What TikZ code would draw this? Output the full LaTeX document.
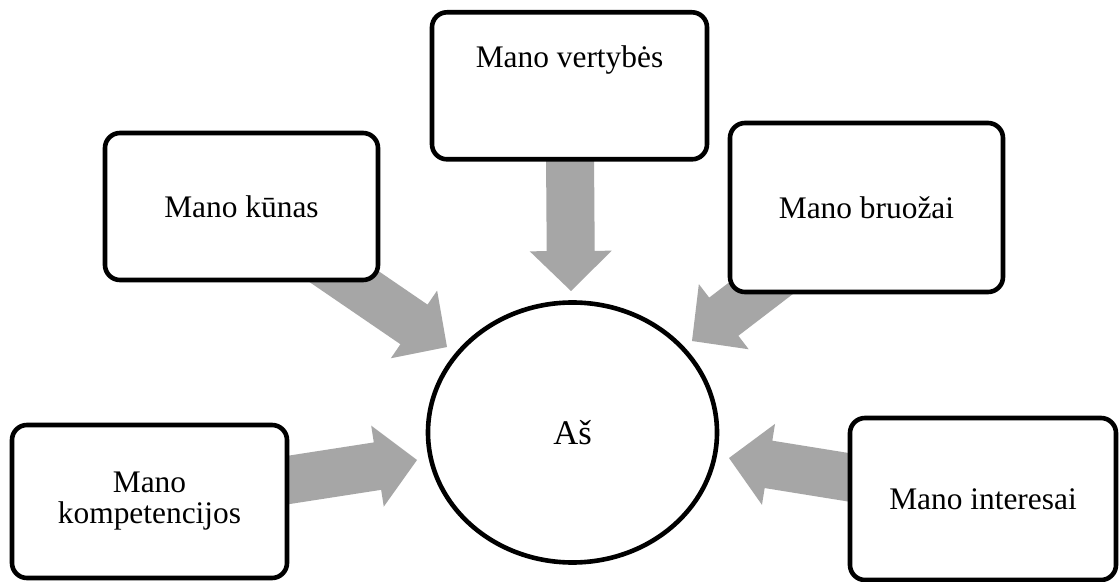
\documentclass[tikz,border=0pt]{standalone}
\usepackage{fontspec}
\setmainfont{Liberation Serif}
\usetikzlibrary{calc,shapes.geometric,backgrounds}
\definecolor{arrowgray}{RGB}{166,166,166}
\newcommand\blockarrow[2]{%
  \path (#1) coordinate (ba-s) (#2) coordinate (ba-t);
  \coordinate (ba-h) at ($(ba-t)!20pt!(ba-s)$);
  \fill[arrowgray] ($(ba-s)!12pt!90:(ba-t)$) -- ($(ba-h)!12pt!-90:(ba-s)$)
    -- ($(ba-h)!20.5pt!-90:(ba-s)$) -- (ba-t) -- ($(ba-h)!20.5pt!90:(ba-s)$)
    -- ($(ba-h)!12pt!90:(ba-s)$) -- ($(ba-s)!12pt!-90:(ba-t)$) -- cycle;
}
\tikzset{
  box/.style={draw, line width=2.3pt, rounded corners=7.5pt, fill=white,
    inner sep=0pt, align=center, font=\fontsize{15.7pt}{15.5pt}\selectfont},
  selfnode/.style={draw, ellipse, line width=2.3pt, fill=white, inner sep=0pt,
    font=\fontsize{17.3pt}{20pt}\selectfont}
}
\begin{document}
\begin{tikzpicture}[x=0.5pt, y=-0.5pt]
\useasboundingbox (0,0) rectangle (1119,582);
% boxes
\node[box, anchor=north, minimum width=137.5pt, text height=27.5pt, text depth=46pt] (vert) at (569.5,10) {Mano vertybės};
\node[box, minimum width=136.5pt, minimum height=73.5pt] (kunas) at (241.5,206.5) {Mano kūnas};
\node[box, minimum width=136.5pt, minimum height=84.5pt] (bruo) at (866.5,207.5) {Mano bruožai};
\node[box, minimum width=137.5pt, minimum height=76.5pt] (komp) at (149.5,501.5) {Mano\\kompetencijos};
\node[box, minimum width=133pt, minimum height=81pt] (inter) at (983,499) {Mano interesai};
% centre
\node[selfnode, minimum width=144.5pt, minimum height=130pt] (me) at (572.5,432.5) {Aš};
% arrow tips
\coordinate (tV) at (571,291);
\coordinate (tK) at (447,347);
\coordinate (tB) at (692,341);
\coordinate (tC) at (417,460);
\coordinate (tI) at (729,458);
\begin{scope}[on background layer]
  \fill[white] (0,0) rectangle (1119,582);
  \blockarrow{vert.center}{tV}
  \blockarrow{kunas.center}{tK}
  \blockarrow{bruo.center}{tB}
  \blockarrow{komp.center}{tC}
  \blockarrow{inter.center}{tI}
\end{scope}
\end{tikzpicture}
\end{document}
